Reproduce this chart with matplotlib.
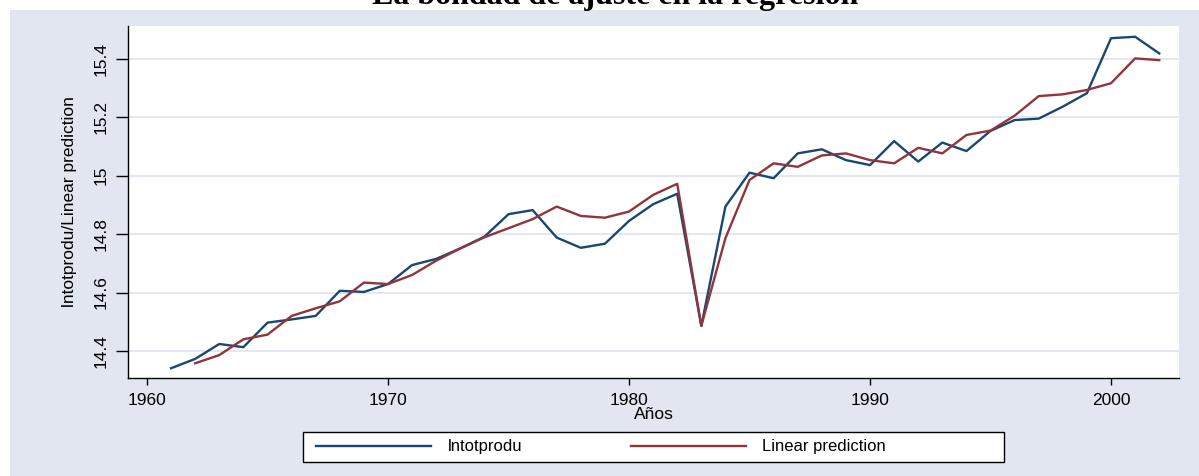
import matplotlib
matplotlib.use("Agg")
import matplotlib.pyplot as plt
from matplotlib.patches import Rectangle

# years and series
years_obs = list(range(1961, 2003))
lntotprodu = [14.341, 14.373, 14.424, 14.413, 14.497, 14.508, 14.520, 14.606, 14.602, 14.629,
              14.694, 14.715, 14.751, 14.791, 14.868, 14.882, 14.788, 14.753, 14.767, 14.845,
              14.902, 14.938, 14.486, 14.894, 15.010, 14.991, 15.076, 15.090, 15.053, 15.036,
              15.118, 15.048, 15.113, 15.084, 15.153, 15.190, 15.195, 15.236, 15.282, 15.470,
              15.475, 15.418]

years_pred = list(range(1962, 2003))
linpred = [14.358, 14.386, 14.440, 14.456, 14.520, 14.546, 14.570, 14.634, 14.629,
           14.660, 14.709, 14.751, 14.789, 14.820, 14.851, 14.894, 14.862, 14.856, 14.877,
           14.934, 14.972, 14.486, 14.786, 14.985, 15.042, 15.030, 15.069, 15.076, 15.053,
           15.042, 15.095, 15.076, 15.139, 15.154, 15.205, 15.272, 15.278, 15.293, 15.316,
           15.401, 15.395]

xticks = [1960, 1970, 1980, 1990, 2000]
yticks = [14.4, 14.6, 14.8, 15.0, 15.2, 15.4]
ytick_labels = ["14.4", "14.6", "14.8", "15", "15.2", "15.4"]

W, H = 1199, 476
plt.rcParams['font.family'] = ['Liberation Sans', 'DejaVu Sans']
fig = plt.figure(figsize=(W / 100, H / 100), dpi=100)
fig.patch.set_facecolor('white')

# stata style outer bluish-gray region
bg = '#E1E6F0'
fig.patches.append(Rectangle((10 / W, 0), 1 - 10 / W, 1 - 10 / H, transform=fig.transFigure,
                             facecolor=bg, edgecolor='none', zorder=-10))

ax = fig.add_axes([128 / W, 1 - 378 / H, (1179 - 128) / W, (378 - 26) / H])
ax.set_zorder(1)
ax.set_facecolor('white')

navy = '#1A476F'
maroon = '#90353B'
l1, = ax.plot(years_obs, lntotprodu, color=navy, lw=1.7, label='lntotprodu', zorder=3)
l2, = ax.plot(years_pred, linpred, color=maroon, lw=1.7, label='Linear prediction', zorder=3)

ax.set_xlim(1959.212, 2002.82)
ax.set_ylim(14.3076, 15.5118)
ax.set_xticks(xticks)
ax.set_yticks(yticks)
ax.set_yticklabels(ytick_labels, rotation=90, va='center')
ax.grid(axis='y', color='#DFE5EF', lw=1.3, zorder=1)
ax.grid(axis='x', visible=False)
ax.set_axisbelow(True)

for s in ['top', 'right']:
    ax.spines[s].set_visible(False)
for s in ['left', 'bottom']:
    ax.spines[s].set_color('black')
    ax.spines[s].set_linewidth(1.0)

ax.tick_params(axis='x', length=5, width=1, pad=6, labelsize=12.5)
ax.tick_params(axis='y', length=9, width=1, pad=5, labelsize=12.5)

ax.set_xlabel('Años', fontsize=12.5, labelpad=-1)
ax.set_ylabel('lntotprodu/Linear prediction', fontsize=12.5, labelpad=12)

fig.text(615 / W, 1 - 4 / H, 'La bondad de ajuste en la regresión', ha='center', va='baseline',
         fontsize=23, fontweight='bold', family=['Liberation Serif', 'DejaVu Serif'])

# legend box
fig.patches.append(Rectangle((303 / W, 1 - 462 / H), (1004 - 303) / W, 30 / H,
                             transform=fig.transFigure, facecolor='white',
                             edgecolor='black', lw=1.0, zorder=1))
fig.legend(handles=[l1, l2], loc='center left', bbox_to_anchor=(316 / W, 1 - 447 / H),
           ncol=2, frameon=False, fontsize=12, borderpad=0, borderaxespad=0,
           handlelength=6.9, handletextpad=1.0, columnspacing=6.5)

fig.savefig('out.png', dpi=100, facecolor=fig.get_facecolor())
